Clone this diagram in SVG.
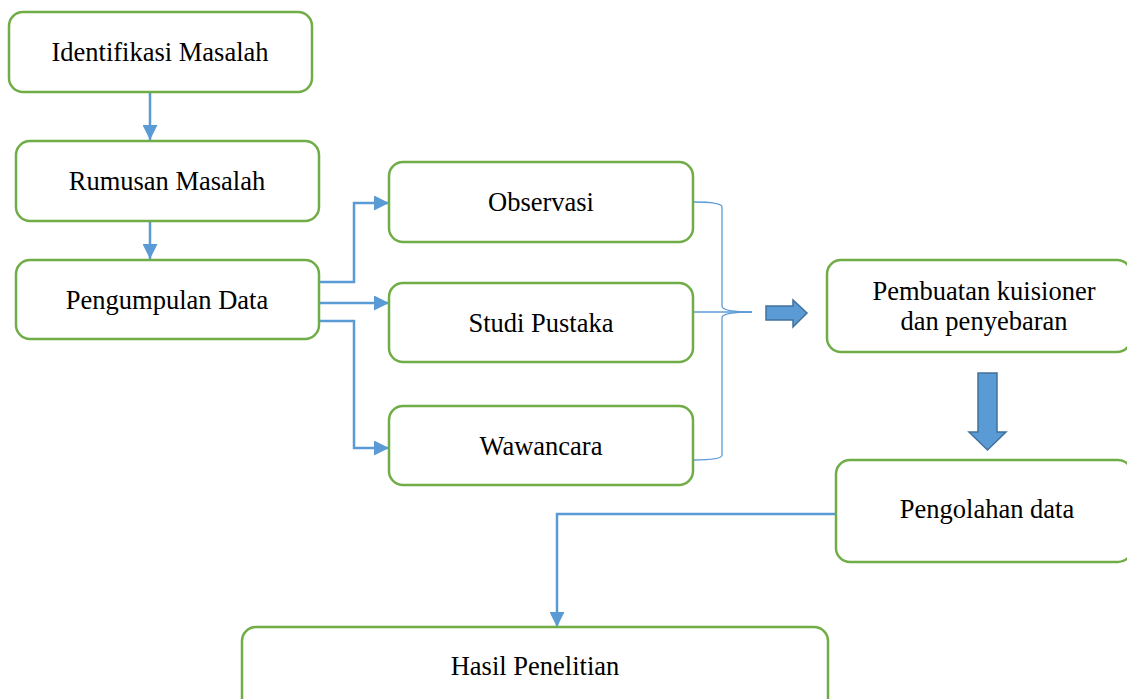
<svg xmlns="http://www.w3.org/2000/svg" width="1127" height="699" viewBox="0 0 1127 699">
<style>
.box{fill:#fff;stroke:#70AD47;stroke-width:2.5}
.t{font-family:"Liberation Serif","Times New Roman",serif;font-size:26.5px;fill:#000;text-anchor:middle}
.c{fill:none;stroke:#5B9BD5;stroke-width:2.5}
.br{fill:none;stroke:#5B9BD5;stroke-width:1.3}
.blk{fill:#5B9BD5;stroke:#41719C;stroke-width:1.5}
</style>
<defs>
<marker id="ah" viewBox="0 0 10 10" refX="10" refY="5" markerWidth="6" markerHeight="6" orient="auto" markerUnits="strokeWidth">
<path d="M0,0 L10,5 L0,10 Z" fill="#5B9BD5"/>
</marker>
</defs>
<g id="connectors">
<line class="c" x1="150" y1="92" x2="150" y2="140" marker-end="url(#ah)"/>
<line class="c" x1="150" y1="221" x2="150" y2="259" marker-end="url(#ah)"/>
<polyline class="c" points="319,282 354,282 354,203 389,203" marker-end="url(#ah)"/>
<line class="c" x1="319" y1="303" x2="389" y2="303" marker-end="url(#ah)"/>
<polyline class="c" points="319,321 354,321 354,448 389,448" marker-end="url(#ah)"/>
<path class="br" d="M693,202 Q722,202 722,207 L722,306 Q722,312 752,312 Q722,312 722,318 L722,455 Q722,460 693,460"/>
<line class="br" x1="693" y1="312" x2="752" y2="312"/>
<path class="blk" d="M766,306 L793,306 L793,300 L807,313 L793,327 L793,320 L766,320 Z"/>
<path class="blk" d="M978,373 L997,373 L997,432 L1006,432 L987.5,450 L969,432 L978,432 Z"/>
<polyline class="c" points="836,514 557,514 557,627" marker-end="url(#ah)"/>
</g>
<g id="n1"><rect class="box" x="9" y="12" width="303" height="80" rx="14"/><text class="t" x="160" y="61">Identifikasi Masalah</text></g>
<g id="n2"><rect class="box" x="16" y="141" width="303" height="80" rx="14"/><text class="t" x="167" y="190">Rumusan Masalah</text></g>
<g id="n3"><rect class="box" x="16" y="260" width="303" height="79" rx="14"/><text class="t" x="167" y="309">Pengumpulan Data</text></g>
<g id="n4"><rect class="box" x="389" y="162" width="304" height="80" rx="14"/><text class="t" x="541" y="211">Observasi</text></g>
<g id="n5"><rect class="box" x="389" y="283" width="304" height="79" rx="14"/><text class="t" x="541" y="332">Studi Pustaka</text></g>
<g id="n6"><rect class="box" x="389" y="406" width="304" height="79" rx="14"/><text class="t" x="541" y="455">Wawancara</text></g>
<g id="n7"><rect class="box" x="827" y="260" width="304" height="92" rx="14"/><text class="t" x="984" y="300">Pembuatan kuisioner</text><text class="t" x="984" y="330">dan penyebaran</text></g>
<g id="n8"><rect class="box" x="836" y="460" width="296" height="102" rx="14"/><text class="t" x="987" y="518">Pengolahan data</text></g>
<g id="n9"><rect class="box" x="242" y="627" width="586" height="90" rx="14"/><text class="t" x="535" y="675">Hasil Penelitian</text></g>
</svg>
